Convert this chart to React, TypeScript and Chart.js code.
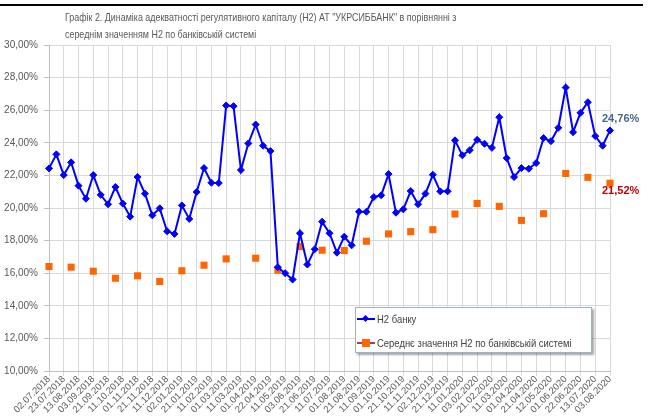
import React, { useEffect, useRef } from 'react';
import { Chart, registerables } from 'chart.js';

Chart.register(...registerables);

const dates: string[] = [
  '02.07.2018', '11.07.2018', '23.07.2018', '01.08.2018', '13.08.2018', '21.08.2018', '03.09.2018', '11.09.2018', '21.09.2018', '01.10.2018',
  '11.10.2018', '22.10.2018', '01.11.2018', '12.11.2018', '21.11.2018', '03.12.2018', '11.12.2018', '21.12.2018', '02.01.2019', '11.01.2019',
  '21.01.2019', '01.02.2019', '11.02.2019', '21.02.2019', '01.03.2019', '05.03.2019', '11.03.2019', '21.03.2019', '01.04.2019', '11.04.2019',
  '22.04.2019', '02.05.2019', '11.05.2019', '21.05.2019', '03.06.2019', '11.06.2019', '21.06.2019', '01.07.2019', '11.07.2019', '22.07.2019',
  '01.08.2019', '12.08.2019', '21.08.2019', '02.09.2019', '11.09.2019', '23.09.2019', '01.10.2019', '11.10.2019', '21.10.2019', '01.11.2019',
  '11.11.2019', '21.11.2019', '02.12.2019', '11.12.2019', '21.12.2019', '02.01.2020', '11.01.2020', '21.01.2020', '03.02.2020', '11.02.2020',
  '21.02.2020', '02.03.2020', '11.03.2020', '23.03.2020', '01.04.2020', '13.04.2020', '21.04.2020', '04.05.2020', '12.05.2020', '21.05.2020',
  '01.06.2020', '11.06.2020', '22.06.2020', '01.07.2020', '13.07.2020', '21.07.2020', '03.08.2020',
];

const bankH2: number[] = [
  22.43, 23.29, 22.02, 22.80, 21.37, 20.57, 22.02, 20.81, 20.23, 21.29,
  20.27, 19.47, 21.90, 20.88, 19.55, 19.98, 18.57, 18.41, 20.16, 19.33,
  20.98, 22.45, 21.55, 21.53, 26.29, 26.25, 22.33, 23.96, 25.12, 23.82,
  23.49, 16.37, 16.00, 15.61, 18.45, 16.53, 17.47, 19.16, 18.45, 17.26,
  18.24, 17.71, 19.77, 19.77, 20.67, 20.78, 22.08, 19.71, 19.92, 21.04,
  20.23, 20.88, 22.04, 21.02, 21.02, 24.15, 23.23, 23.55, 24.18, 23.94,
  23.69, 25.57, 23.06, 21.90, 22.45, 22.41, 22.76, 24.29, 24.10, 24.92,
  27.39, 24.65, 25.84, 26.49, 24.41, 23.82, 24.76,
];

const systemH2: (number | null)[] = [
  16.41, null, null, 16.37, null, null, 16.12, null, null, 15.69,
  null, null, 15.84, null, null, 15.49, null, null, 16.15, null,
  null, 16.49, null, null, 16.88, null, null, null, 16.92, null,
  null, 16.18, null, null, 17.63, null, null, 17.41, null, null,
  17.39, null, null, 17.96, null, null, 18.41, null, null, 18.55,
  null, null, 18.67, null, null, 19.63, null, null, 20.28, null,
  null, 20.10, null, null, 19.24, null, null, 19.65, null, null,
  22.12, null, null, 21.88, null, null, 21.52,
];

const seriesNames: string[] = ['Н2 банку', 'Середнє значення Н2 по банківській системі'];
const titleLines: string[] = [
  'Графік 2. Динаміка адекватності регулятивного капіталу (Н2) АТ "УКРСИББАНК" в порівнянні з',
  'середнім значенням Н2 по банківській системі',
];

const FONT = '"Liberation Sans", Arial, sans-serif';
const fmtPct = (v: number) => v.toFixed(2).replace('.', ',') + '%';

const lastValueLabels = {
  id: 'lastValueLabels',
  afterDatasetsDraw(chart: any) {
    const ctx = chart.ctx;
    const m0 = chart.getDatasetMeta(0).data;
    const m1 = chart.getDatasetMeta(1).data;
    const i0 = bankH2.length - 1;
    const i1 = systemH2.length - 1;
    const p0 = m0[i0];
    const p1 = m1[i1];
    ctx.save();
    ctx.font = `bold 11px ${FONT}`;
    ctx.textAlign = 'left';
    ctx.textBaseline = 'middle';
    if (p0) {
      ctx.fillStyle = '#44698F';
      ctx.fillText(fmtPct(bankH2[i0]), p0.x - 8, p0.y - 11);
    }
    if (p1 && systemH2[i1] != null) {
      ctx.fillStyle = '#C00000';
      ctx.fillText(fmtPct(systemH2[i1] as number), p1.x - 8, p1.y + 8);
    }
    ctx.restore();
  },
};

export default function App() {
  const ref = useRef<HTMLCanvasElement>(null);

  useEffect(() => {
    Chart.defaults.font.family = FONT;
    const gridCol = (c: any) => (c.index % 2 === 0 ? '#D9D9D9' : 'rgba(0,0,0,0)');
    const chart = new Chart(ref.current as HTMLCanvasElement, {
      type: 'line',
      data: {
        labels: dates,
        datasets: [
          {
            label: seriesNames[0],
            data: bankH2,
            borderColor: '#0000FF',
            backgroundColor: '#0000FF',
            borderWidth: 2,
            pointStyle: 'rectRot',
            pointRadius: 3.5,
            pointBorderWidth: 1,
            tension: 0,
          },
          {
            label: seriesNames[1],
            data: systemH2,
            showLine: false,
            borderColor: '#FF6600',
            backgroundColor: '#FF6600',
            pointStyle: 'rect',
            pointRadius: 5,
            pointBorderWidth: 0,
          },
        ],
      },
      options: {
        responsive: false,
        animation: false,
        devicePixelRatio: 1,
        layout: { padding: { top: 45, right: 39, left: 0, bottom: 0 } },
        plugins: {
          legend: { display: false },
          title: { display: false },
          tooltip: { enabled: false },
        },
        scales: {
          x: {
            type: 'category',
            offset: false,
            grid: { color: gridCol, tickColor: gridCol, tickLength: 5, lineWidth: 1 },
            border: { color: '#BFBFBF' },
            ticks: {
              autoSkip: false,
              maxRotation: 45,
              minRotation: 45,
              padding: -2,
              color: '#595959',
              font: { size: 9.5, family: FONT, lineHeight: 1.1 },
              callback: (_v: any, i: number) => (i % 2 === 0 ? dates[i] : ''),
            },
            afterFit: (s: any) => {
              s.height = 45;
            },
          },
          y: {
            min: 10,
            max: 30,
            grid: { color: '#D9D9D9', tickColor: '#BFBFBF', tickLength: 5 },
            border: { color: '#BFBFBF' },
            ticks: {
              stepSize: 2,
              padding: 6,
              color: '#595959',
              font: { size: 10, family: FONT },
              callback: (v: any) => fmtPct(Number(v)),
            },
            afterFit: (s: any) => {
              s.width = 49;
            },
          },
        },
      },
      plugins: [lastValueLabels],
    });
    return () => chart.destroy();
  }, []);

  const textStyle: React.CSSProperties = {
    fontFamily: FONT,
    color: '#595959',
    whiteSpace: 'nowrap',
  };

  return (
    <div style={{ position: 'fixed', left: 0, top: 0, width: 649, height: 416, background: '#fff', overflow: 'hidden' }}>
      <canvas ref={ref} width={649} height={416} style={{ position: 'absolute', left: 0, top: 0 }} />
      <div style={{ position: 'absolute', left: 0, top: 4, width: 643, height: 2, background: '#000' }} />
      <div
        style={{
          ...textStyle,
          position: 'absolute',
          left: 65,
          top: 9,
          fontSize: 11,
          lineHeight: '17px',
          transform: 'scaleX(0.81)',
          transformOrigin: '0 0',
        }}
      >
        <div>{titleLines[0]}</div>
        <div>{titleLines[1]}</div>
      </div>
      <div
        style={{
          position: 'absolute',
          left: 355,
          top: 307,
          width: 237,
          height: 46,
          boxSizing: 'border-box',
          border: '1px solid #9DB3CC',
          background: '#fff',
          boxShadow: '2px 2px 2px rgba(0,0,0,0.35)',
        }}
      >
        <div style={{ position: 'absolute', left: 1, top: 10, width: 18, height: 2, background: '#0000FF' }} />
        <div
          style={{
            position: 'absolute',
            left: 7,
            top: 8,
            width: 5,
            height: 5,
            background: '#0000FF',
            transform: 'rotate(45deg)',
          }}
        />
        <div
          style={{
            ...textStyle,
            position: 'absolute',
            left: 21,
            top: 5,
            fontSize: 10.5,
            lineHeight: '12px',
            transform: 'scaleX(0.9)',
            transformOrigin: '0 0',
            color: '#404040',
          }}
        >
          {seriesNames[0]}
        </div>
        <div style={{ position: 'absolute', left: 1, top: 34, width: 18, height: 2, background: '#A0405E' }} />
        <div style={{ position: 'absolute', left: 6, top: 31, width: 8, height: 8, background: '#FF6600' }} />
        <div
          style={{
            ...textStyle,
            position: 'absolute',
            left: 21,
            top: 29,
            fontSize: 10.5,
            lineHeight: '12px',
            transform: 'scaleX(0.9)',
            transformOrigin: '0 0',
            color: '#404040',
          }}
        >
          {seriesNames[1]}
        </div>
      </div>
    </div>
  );
}
